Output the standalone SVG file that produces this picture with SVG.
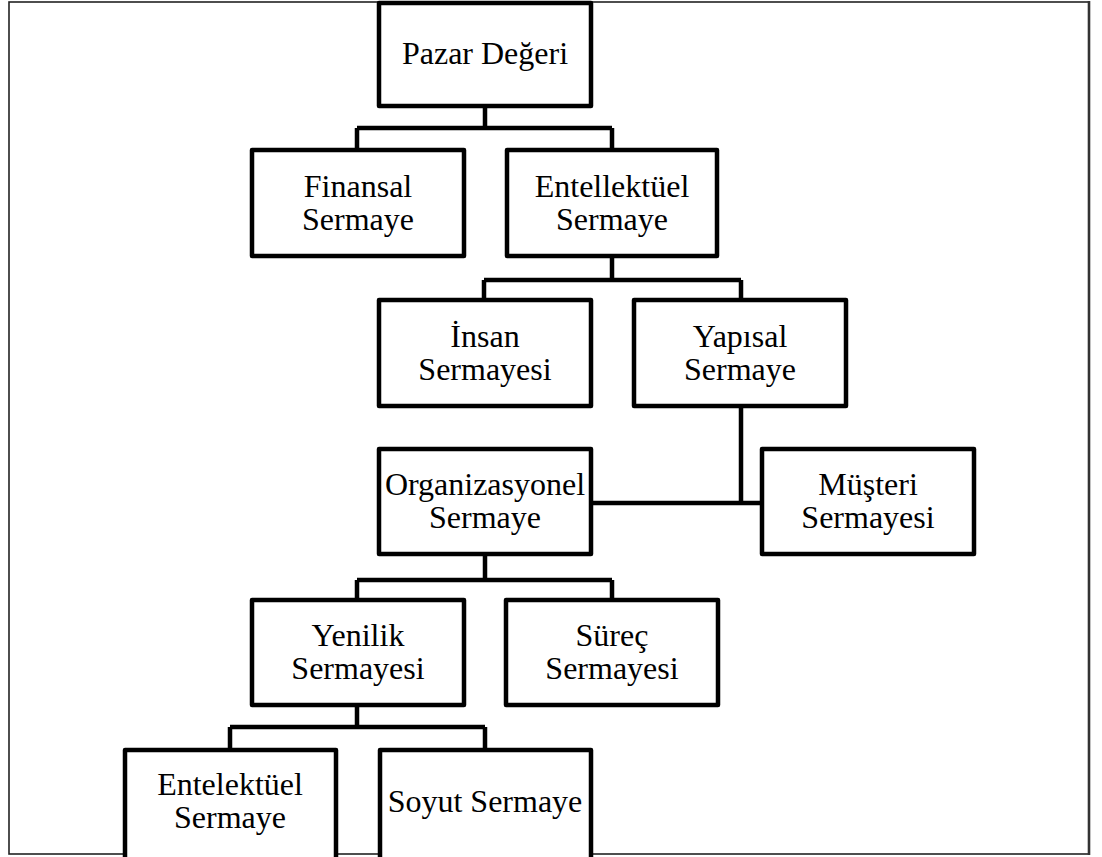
<svg xmlns="http://www.w3.org/2000/svg" width="1102" height="857" viewBox="0 0 1102 857">
  <style>
    .box { fill: #fff; stroke: #000; stroke-width: 4.5; stroke-linejoin: round; }
    .link { fill: none; stroke: #000; stroke-width: 4.5; stroke-linejoin: miter; }
    .lbl { font-family: "Liberation Serif", "Times New Roman", serif; font-size: 32px; fill: #000; text-anchor: middle; }
  </style>
  <rect width="1102" height="857" fill="#fff"/>
  <!-- outer frame -->
  <rect x="9" y="2" width="1080" height="852" fill="none" stroke="#222" stroke-width="1.6"/>
  <line x1="1089" y1="1" x2="1089" y2="855" stroke="#333" stroke-width="2.6"/>

  <!-- connectors -->
  <g id="connectors">
    <path class="link" d="M485 106 V128 M357 128 H612 M357 128 V150 M612 128 V150"/>
    <path class="link" d="M612 256 V280 M484 280 H741 M484 280 V300 M741 280 V300"/>
    <path class="link" d="M741 406 V503 M591 503 H762"/>
    <path class="link" d="M485 554 V580 M357 580 H612 M357 580 V600 M612 580 V600"/>
    <path class="link" d="M357 705 V727 M230 727 H485 M230 727 V750 M485 727 V750"/>
  </g>

  <g id="pazar-degeri">
    <rect class="box" x="379" y="3" width="212" height="103"/>
    <text class="lbl" x="485" y="64">Pazar Değeri</text>
  </g>
  <g id="finansal-sermaye">
    <rect class="box" x="252" y="150" width="212" height="106"/>
    <text class="lbl" x="358" y="197">Finansal</text>
    <text class="lbl" x="358" y="230">Sermaye</text>
  </g>
  <g id="entellektuel-sermaye">
    <rect class="box" x="507" y="150" width="210" height="106"/>
    <text class="lbl" x="612" y="197">Entellektüel</text>
    <text class="lbl" x="612" y="230">Sermaye</text>
  </g>
  <g id="insan-sermayesi">
    <rect class="box" x="379" y="300" width="212" height="106"/>
    <text class="lbl" x="485" y="347">İnsan</text>
    <text class="lbl" x="485" y="380">Sermayesi</text>
  </g>
  <g id="yapisal-sermaye">
    <rect class="box" x="634" y="300" width="212" height="106"/>
    <text class="lbl" x="740" y="347">Yapısal</text>
    <text class="lbl" x="740" y="380">Sermaye</text>
  </g>
  <g id="organizasyonel-sermaye">
    <rect class="box" x="379" y="449" width="212" height="105"/>
    <text class="lbl" x="485" y="495">Organizasyonel</text>
    <text class="lbl" x="485" y="528">Sermaye</text>
  </g>
  <g id="musteri-sermayesi">
    <rect class="box" x="762" y="449" width="212" height="105"/>
    <text class="lbl" x="868" y="495">Müşteri</text>
    <text class="lbl" x="868" y="528">Sermayesi</text>
  </g>
  <g id="yenilik-sermayesi">
    <rect class="box" x="252" y="600" width="212" height="105"/>
    <text class="lbl" x="358" y="646">Yenilik</text>
    <text class="lbl" x="358" y="679">Sermayesi</text>
  </g>
  <g id="surec-sermayesi">
    <rect class="box" x="506" y="600" width="212" height="105"/>
    <text class="lbl" x="612" y="646">Süreç</text>
    <text class="lbl" x="612" y="679">Sermayesi</text>
  </g>
  <g id="entelektuel-sermaye">
    <rect class="box" x="125" y="750" width="211" height="120"/>
    <text class="lbl" x="230" y="795">Entelektüel</text>
    <text class="lbl" x="230" y="828">Sermaye</text>
  </g>
  <g id="soyut-sermaye">
    <rect class="box" x="380" y="750" width="211" height="120"/>
    <text class="lbl" x="485" y="812">Soyut Sermaye</text>
  </g>
</svg>
